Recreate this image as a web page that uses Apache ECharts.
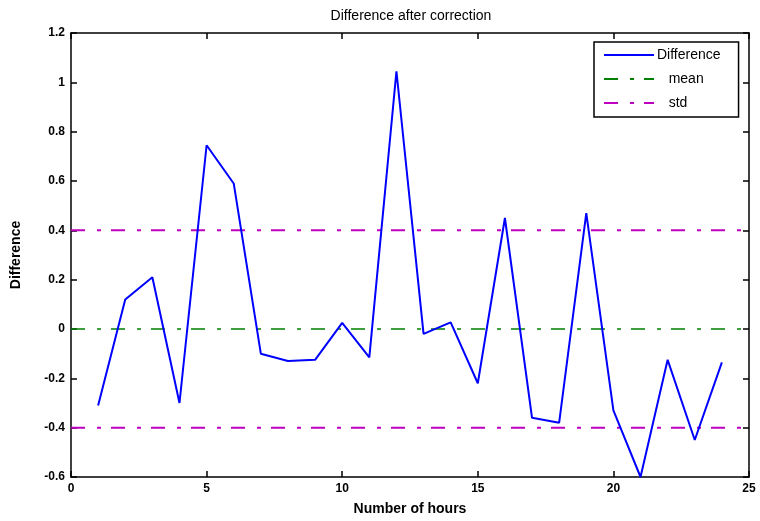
<!DOCTYPE html>
<html>
<head>
<meta charset="utf-8">
<script src="https://cdn.jsdelivr.net/npm/echarts@6/dist/echarts.min.js"></script>
<style>html,body{margin:0;padding:0;background:#fff}#c{width:760px;height:521px}</style>
</head>
<body>
<div id="c"></div>
<script>
var hours = [1,2,3,4,5,6,7,8,9,10,11,12,13,14,15,16,17,18,19,20,21,22,23,24];
var difference = [-0.31,0.12,0.21,-0.30,0.745,0.59,-0.10,-0.13,-0.125,0.025,-0.115,1.045,-0.02,0.027,-0.22,0.45,-0.36,-0.38,0.47,-0.33,-0.60,-0.125,-0.45,-0.135];
var meanValue = 0;
var stdValue = 0.4;
var xRange = [0, 25];
var yRange = [-0.6, 1.2];

var diffData = hours.map(function (h, i) { return [h, difference[i]]; });
var dashDot = [14, 12, 4, 10];
var FONT = '"Liberation Sans", Arial, sans-serif';

function fmt(v) { return String(Math.round(v * 10) / 10); }

function axisBase() {
  return {
    type: 'value',
    axisLine: { show: true, onZero: false, lineStyle: { color: '#000', width: 1.5 } },
    axisTick: { show: true, inside: true, length: 6, lineStyle: { color: '#000', width: 1.5 } },
    splitLine: { show: false }
  };
}

var chart = echarts.init(document.getElementById('c'), null, { renderer: 'canvas' });
chart.setOption({
  animation: false,
  backgroundColor: '#fff',
  title: {
    text: 'Difference after correction',
    left: 406, textAlign: 'center', top: 4,
    textStyle: { fontFamily: FONT, fontSize: 14, fontWeight: 'normal', color: '#000' }
  },
  grid: { left: 71, right: 11, top: 33, bottom: 43 },
  legend: {
    orient: 'vertical',
    left: 594, top: 42,
    itemWidth: 50, itemHeight: 14, itemGap: 10,
    padding: [6, 18, 7, 9],
    borderColor: '#000', borderWidth: 1.5,
    backgroundColor: '#fff',
    itemStyle: { opacity: 0, borderWidth: 0 },
    data: ['Difference', 'mean', 'std'],
    formatter: function (n) { return n === 'Difference' ? n : '   ' + n; },
    textStyle: { fontFamily: FONT, fontSize: 14, color: '#000', padding: [0, 0, 0, -2] }
  },
  xAxis: [
    Object.assign(axisBase(), {
      position: 'bottom', min: xRange[0], max: xRange[1], interval: 5,
      name: 'Number of hours', nameLocation: 'middle', nameGap: 25,
      nameTextStyle: { fontFamily: FONT, fontSize: 14, fontWeight: 'bold', color: '#000' },
      axisLabel: { fontFamily: FONT, fontSize: 12, fontWeight: 'bold', color: '#000', margin: 6 }
    }),
    Object.assign(axisBase(), {
      position: 'top', min: xRange[0], max: xRange[1], interval: 5,
      axisLabel: { show: false }
    })
  ],
  yAxis: [
    Object.assign(axisBase(), {
      position: 'left', min: yRange[0], max: yRange[1], interval: 0.2,
      name: 'Difference', nameLocation: 'middle', nameGap: 48,
      nameTextStyle: { fontFamily: FONT, fontSize: 14, fontWeight: 'bold', color: '#000' },
      axisLabel: { fontFamily: FONT, fontSize: 12, fontWeight: 'bold', color: '#000', margin: 6, formatter: fmt }
    }),
    Object.assign(axisBase(), {
      position: 'right', min: yRange[0], max: yRange[1], interval: 0.2,
      axisLabel: { show: false }
    })
  ],
  series: [
    {
      name: 'Difference', type: 'line', data: diffData,
      xAxisIndex: 0, yAxisIndex: 0,
      showSymbol: false, symbol: 'none', z: 5,
      lineStyle: { color: '#0000ff', width: 2 },
      itemStyle: { color: '#0000ff' }
    },
    {
      name: 'mean', type: 'line', data: [[xRange[0], meanValue], [xRange[1], meanValue]],
      showSymbol: false, symbol: 'none', z: 3,
      lineStyle: { color: '#008000', width: 1.3, type: dashDot },
      itemStyle: { color: '#008000' }
    },
    {
      name: 'std', type: 'line', data: [[xRange[0], stdValue], [xRange[1], stdValue]],
      showSymbol: false, symbol: 'none', z: 3,
      lineStyle: { color: '#c000c0', width: 2, type: dashDot },
      itemStyle: { color: '#c000c0' }
    },
    {
      name: 'std', type: 'line', data: [[xRange[0], -stdValue], [xRange[1], -stdValue]],
      showSymbol: false, symbol: 'none', z: 3,
      lineStyle: { color: '#c000c0', width: 2, type: dashDot },
      itemStyle: { color: '#c000c0' }
    }
  ]
});
</script>
</body>
</html>
